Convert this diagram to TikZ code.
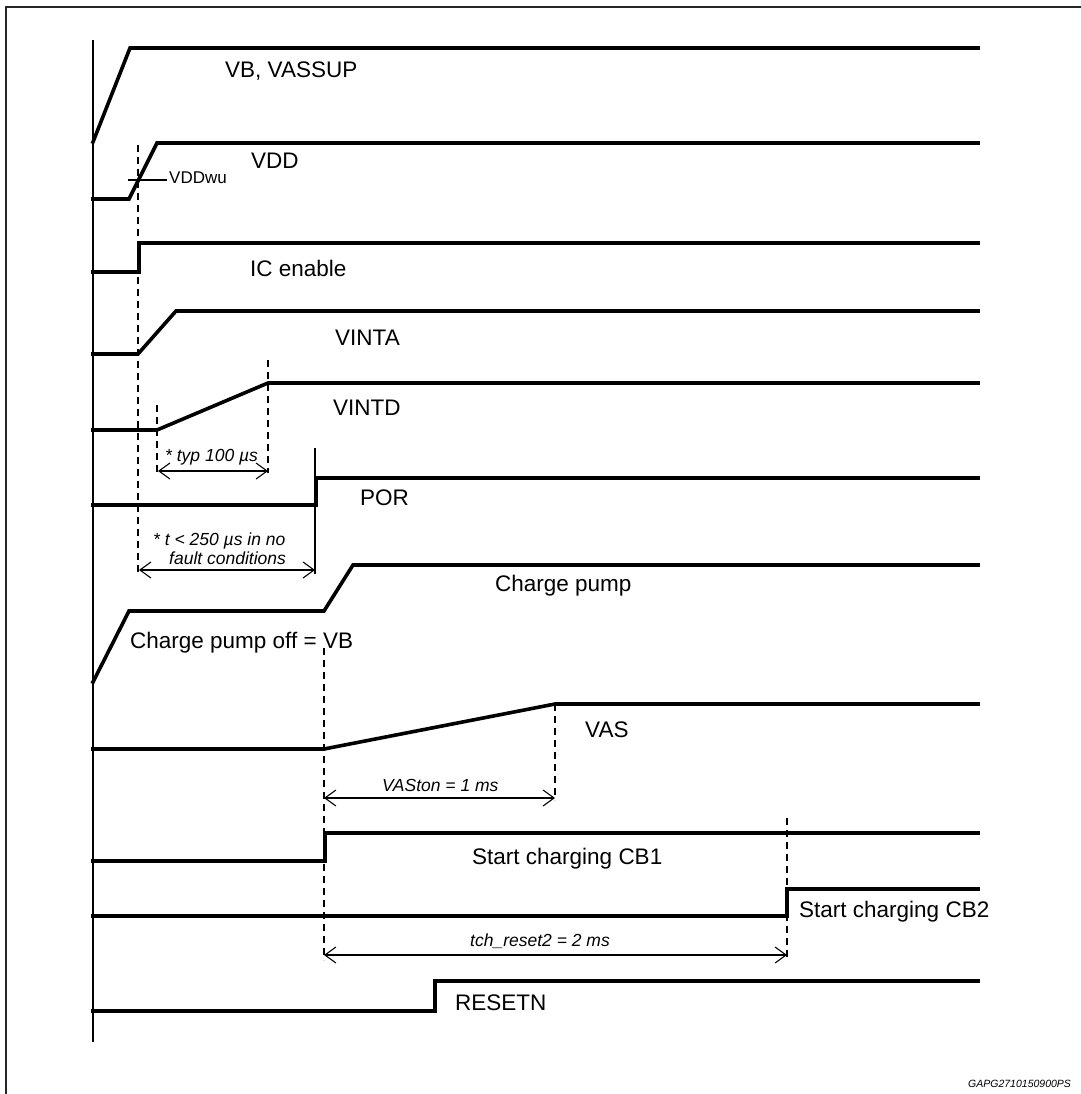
\documentclass[tikz,border=0pt]{standalone}
\usepackage{fontspec}
\setmainfont{Liberation Sans}
\usetikzlibrary{arrows.meta}
\begin{document}
\begin{tikzpicture}[x=1pt,y=-1pt,
  sig/.style={line width=3.6pt,line join=miter,line cap=rect},
  thin/.style={line width=1.2pt},
  dsh/.style={line width=1.2pt,dash pattern=on 7pt off 5pt},
  dim/.style={line width=1.1pt,{Straight Barb[length=11pt,width=16pt,line width=1.1pt]}-{Straight Barb[length=11pt,width=16pt,line width=1.1pt]}},
  lbl/.style={anchor=base west,inner sep=0pt,font=\fontsize{22.5}{27}\selectfont},
  sml/.style={anchor=base west,inner sep=0pt,font=\fontsize{17}{20}\selectfont},
  ita/.style={anchor=base west,inner sep=0pt,font=\fontsize{17.5}{20}\selectfont\itshape},
]
\useasboundingbox (0,0) rectangle (1080,1094);
\fill[white] (0,0) rectangle (1080,1094);
% frame
\draw[line width=2pt,black!85] (6,1100) -- (6,7) -- (1090,7);
% axis
\draw[thin] (93,40) -- (93,1042);
% dashed guides
\draw[dsh] (138,145) -- (138,572);
\draw[dsh] (157,405) -- (157,473);
\draw[dsh] (268,360) -- (268,473);
\draw[dsh] (324,648) -- (324,960);
\draw[dsh] (555,704) -- (555,800);
\draw[dsh] (787,818) -- (787,958);
\draw[thin] (315,448) -- (315,574);
% signals
\draw[sig] (93,142) -- (130,48) -- (978,48);
\draw[sig] (93,199) -- (129,199) -- (157,143) -- (978,143);
\draw[thin] (128,180) -- (167,180);
\draw[sig] (93,272) -- (139,272) -- (139,243) -- (978,243);
\draw[sig] (93,354) -- (138,354) -- (176,311) -- (978,311);
\draw[sig] (93,430) -- (157,430) -- (268,383) -- (978,383);
\draw[sig] (93,505) -- (316,505) -- (316,478) -- (978,478);
\draw[sig] (93,682) -- (129,611) -- (324,611) -- (353,565) -- (978,565);
\draw[sig] (93,749) -- (324,749) -- (555,704) -- (978,704);
\draw[sig] (93,861) -- (325,861) -- (325,833) -- (978,833);
\draw[sig] (93,916) -- (787,916) -- (787,889) -- (978,889);
\draw[sig] (93,1011) -- (435,1011) -- (435,981) -- (978,981);
% dimension arrows
\coordinate (a1) at (158,471); \coordinate (b1) at (268,471);
\draw[dim] (a1) -- (b1);
\coordinate (a2) at (139,570); \coordinate (b2) at (315,570);
\draw[dim] (a2) -- (b2);
\coordinate (a3) at (324,798); \coordinate (b3) at (555,798);
\draw[dim] (a3) -- (b3);
\coordinate (a4) at (324,955); \coordinate (b4) at (787,955);
\draw[dim] (a4) -- (b4);
% labels
\node[lbl] (l1) at (225,78) {VB, VASSUP};
\node[lbl] (l2) at (251,169) {VDD};
\node[sml] (l2b) at (169,184) {VDDwu};
\node[lbl] (l3) at (250,276) {IC enable};
\node[lbl] (l4) at (335,345) {VINTA};
\node[lbl] (l5) at (333,415) {VINTD};
\node[ita] (t1) at (165,461) {* typ 100 µs};
\node[lbl] (l6) at (360,505) {POR};
\node[ita] (t2a) at (153,545) {* t < 250 µs in no};
\node[ita] (t2b) at (169,564) {fault conditions};
\node[lbl] (l7) at (495,591) {Charge pump};
\node[lbl] (l7b) at (130,648) {Charge pump off = VB};
\node[lbl] (l8) at (585,737) {VAS};
\node[ita] (t3) at (382,791) {VASton = 1 ms};
\node[lbl] (l9) at (472,864) {Start charging CB1};
\node[lbl] (l10) at (799,917) {Start charging CB2};
\node[ita] (t4) at (470,946) {tch\_reset2 = 2 ms};
\node[lbl] (l11) at (455,1010) {RESETN};
\node[anchor=base west,inner sep=0pt,font=\fontsize{10.5}{12}\selectfont\itshape] (id) at (968,1087) {GAPG2710150900PS};
\end{tikzpicture}
\end{document}
